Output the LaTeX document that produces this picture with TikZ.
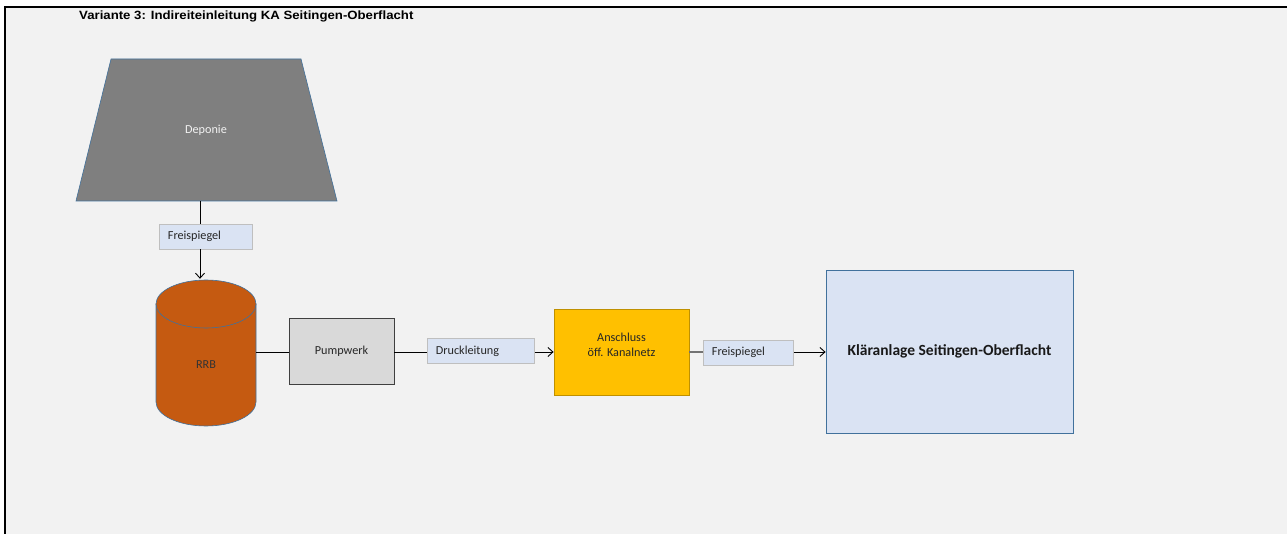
\documentclass[tikz,border=0pt]{standalone}
\usepackage{fontspec}
\setmainfont{Carlito}
\newfontfamily\titlefont{Liberation Sans}
\usetikzlibrary{arrows.meta,calc}
\definecolor{bg}{HTML}{F2F2F2}
\definecolor{depgray}{HTML}{7F7F7F}
\definecolor{edgeblue}{HTML}{41719C}
\definecolor{lblue}{HTML}{DAE3F3}
\definecolor{lgray}{HTML}{BFBFBF}
\definecolor{rrbc}{HTML}{C55A11}
\definecolor{pgray}{HTML}{D9D9D9}
\definecolor{gold}{HTML}{FFC000}
\definecolor{golde}{HTML}{BF9000}
\tikzset{
  lbltext/.style={font=\fontsize{12.2}{14.5}\selectfont, text=black!85},
  pipelabel/.style={lbltext, draw=lgray, fill=lblue, line width=0.8pt, inner ysep=0pt, inner xsep=8.5pt, minimum height=25pt, anchor=west, align=left},
  conn/.style={line width=0.9pt, black},
  flow/.style={conn, -{Straight Barb[length=5pt,width=9pt]}},
}
\begin{document}
\begin{tikzpicture}[x=1pt,y=-1pt]
\useasboundingbox (0,0) rectangle (1287,534);
\fill[white] (0,0) rectangle (1287,534);
\fill[bg] (5,7) rectangle (1287,534);
\draw[line width=2pt] (5,534) -- (5,7) -- (1287,7);
\node[anchor=base west, font=\titlefont\bfseries\fontsize{12}{14}\selectfont, inner sep=0pt] (title) at (79,20) {\scalebox{1.1}[1]{Variante 3: Indireiteinleitung KA Seitingen-Oberflacht}};
% Deponie trapezoid
\filldraw[fill=depgray, draw=edgeblue, line width=0.6pt] (111,59) -- (301,59) -- (337,201) -- (76,201) -- cycle;
\node[lbltext, text=bg] (dep) at (206,130) {Deponie};
\coordinate (depb) at (200,201);
% Freispiegel 1
\node[pipelabel, minimum width=93pt, text width=76pt] (fs1) at (159,236.5) {Freispiegel};
% RRB cylinder
\filldraw[fill=rrbc, draw=edgeblue, line width=0.6pt] (156,304) -- (156,402) arc[start angle=180, end angle=0, x radius=50, y radius=24] -- (256,304) -- cycle;
\filldraw[fill=rrbc, draw=edgeblue, line width=0.6pt] (206,304) ellipse[x radius=50, y radius=24];
\node[minimum width=100pt, minimum height=146pt, inner sep=0pt] (rrb) at (206,352) {};
\node[lbltext, text=black!80] (rrbt) at (206,365) {RRB};
% Pumpwerk
\node[lbltext, draw=black!75, fill=pgray, line width=0.9pt, minimum width=105pt, minimum height=66pt, inner sep=0pt] (pw) at (341.5,351) {Pumpwerk};
% Druckleitung
\node[pipelabel, minimum width=107pt, text width=90pt] (dl) at (427,351) {Druckleitung};
% Anschluss
\node[draw=golde, fill=gold, line width=0.8pt, minimum width=135pt, minimum height=86pt, inner sep=0pt] (an) at (621.5,352) {};
\node[lbltext, align=center] (ant) at (621.5,345) {Anschluss\\öff. Kanalnetz};
% Freispiegel 2
\node[pipelabel, minimum width=90pt, text width=73pt] (fs2) at (703,352.5) {Freispiegel};
% Klaeranlage
\node[draw=edgeblue, fill=lblue, line width=0.8pt, minimum width=247pt, minimum height=163pt, inner sep=0pt, font=\bfseries\fontsize{15.5}{18}\selectfont, text=black!90] (ka) at (949.5,351.5) {Kläranlage Seitingen-Oberflacht};
% connectors
\draw[conn] (depb) -- (depb |- fs1.north);
\draw[flow] (fs1.south -| depb) -- (rrb.north -| depb);
\draw[conn] (rrb.east) -- (rrb.east -| pw.west);
\draw[conn] (pw.east |- rrb.east) -- (rrb.east -| dl.west);
\draw[flow] (dl.east |- rrb.east) -- (rrb.east -| an.west);
\draw[line width=1.2pt, black!55] (an.east |- rrb.east) -- (rrb.east -| fs2.west);
\draw[flow] (fs2.east |- rrb.east) -- (rrb.east -| ka.west);
\end{tikzpicture}
\end{document}
